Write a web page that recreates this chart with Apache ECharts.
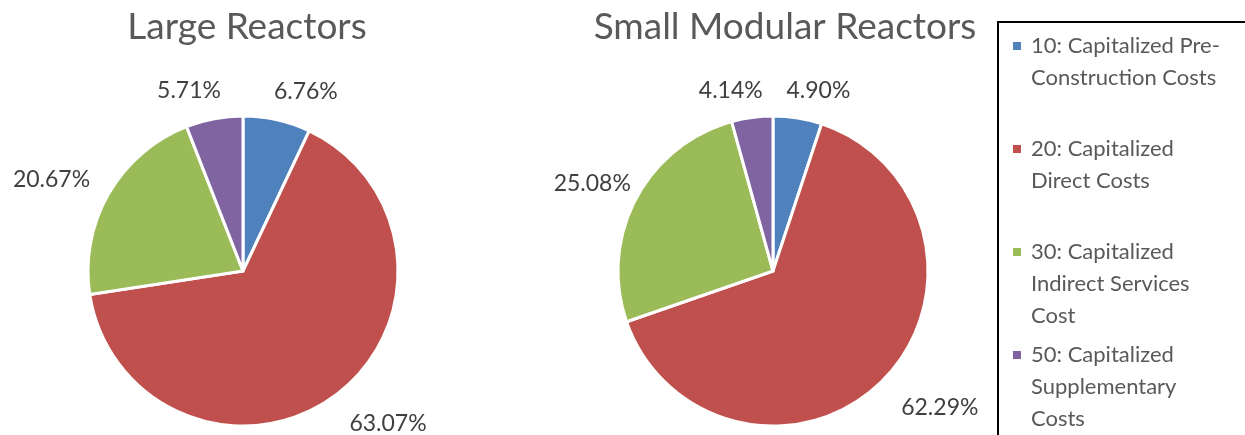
<!DOCTYPE html>
<html>
<head>
<meta charset="utf-8">
<title>Reactor cost breakdown</title>
<script src="https://cdn.jsdelivr.net/npm/echarts@6/dist/echarts.min.js"></script>
<style>
  * { margin: 0; padding: 0 }
  html, body { width: 100%; height: 100%; background: #fff; }
  #main { width: 1245px; height: 435px; }
</style>
</head>
<body>
<div id="main"></div>
<script>
  // categories (legend) and the two pies' values, in percent
  var categories = [
    '10: Capitalized Pre-Construction Costs',
    '20: Capitalized Direct Costs',
    '30: Capitalized Indirect Services Cost',
    '50: Capitalized Supplementary Costs'
  ];
  // how the legend wraps each name
  var legendLines = [
    ['10: Capitalized Pre-', 'Construction Costs'],
    ['20: Capitalized', 'Direct Costs'],
    ['30: Capitalized', 'Indirect Services', 'Cost'],
    ['50: Capitalized', 'Supplementary', 'Costs']
  ];
  var largeValues = [6.76, 63.07, 20.67, 5.71];
  var smrValues = [4.90, 62.29, 25.08, 4.14];
  var titles = ['Large Reactors', 'Small Modular Reactors'];
  var colors = ['#4F81BD', '#C0504D', '#9BBB59', '#8064A2'];

  // small label nudges (px) so labels sit where Excel's best-fit puts them
  var labelNudge = [
    [[-12, -11], [-2, 14], [2, -5], [15, -10]],
    [[-19, -10], [0, 15], [16, -7], [18, -9]]
  ];

  var font = 'Lato, "Open Sans", sans-serif';
  var chart = echarts.init(document.getElementById('main'));

  function pieData(vals) {
    return vals.map(function (v, i) {
      return { name: categories[i], value: v };
    });
  }

  // rich text styles for the legend: a coloured square on the first line
  var rich = {
    t: { fontSize: 22, lineHeight: 32, color: '#595959', fontFamily: font },
    ind: { width: 18, height: 8, lineHeight: 32 },
    g: { width: 10, height: 8, lineHeight: 32 }
  };
  colors.forEach(function (c, i) {
    rich['b' + i] = { width: 8, height: 8, lineHeight: 32, backgroundColor: c };
  });

  function pieSeries(vals, cx) {
    return {
      type: 'pie',
      center: [cx, 271],
      radius: 155,
      startAngle: 90,
      clockwise: true,
      animation: false,
      data: pieData(vals),
      itemStyle: { borderColor: '#fff', borderWidth: 3 },
      label: {
        show: true,
        position: 'outside',
        fontSize: 23,
        fontFamily: font,
        color: '#404040',
        formatter: function (p) { return p.value.toFixed(2) + '%'; }
      },
      labelLine: { show: false, length: 18, length2: 0 },
      labelLayout: function (p) {
        var n = labelNudge[p.seriesIndex][p.dataIndex];
        return { dx: n[0], dy: n[1] };
      },
      emphasis: { disabled: true }
    };
  }

  chart.setOption({
    color: colors,
    title: [
      { text: titles[0], left: 242, top: 4, textAlign: 'center',
        textStyle: { fontSize: 37, fontWeight: 'normal', color: '#595959', fontFamily: font } },
      { text: titles[1], left: 780, top: 4, textAlign: 'center',
        textStyle: { fontSize: 37, fontWeight: 'normal', color: '#595959', fontFamily: font } }
    ],
    legend: {
      orient: 'vertical',
      left: 998,
      top: 22,
      height: 600,
      icon: 'none',
      itemWidth: 0,
      itemHeight: 8,
      itemGap: 17,
      padding: [13, 50, 30, 10],
      borderColor: '#000',
      borderWidth: 2,
      selectedMode: false,
      data: categories,
      formatter: function (name) {
        var i = categories.indexOf(name);
        var lines = legendLines[i].slice();
        while (lines.length < 3) lines.push(' ');
        return lines.map(function (l, k) {
          return (k === 0 ? '{b' + i + '|}{g|}' : '{ind|}') + '{t|' + l + '}';
        }).join('\n');
      },
      textStyle: { fontSize: 22, fontFamily: font, color: '#595959', rich: rich }
    },
    series: [pieSeries(largeValues, 243), pieSeries(smrValues, 773)]
  });
</script>
</body>
</html>
